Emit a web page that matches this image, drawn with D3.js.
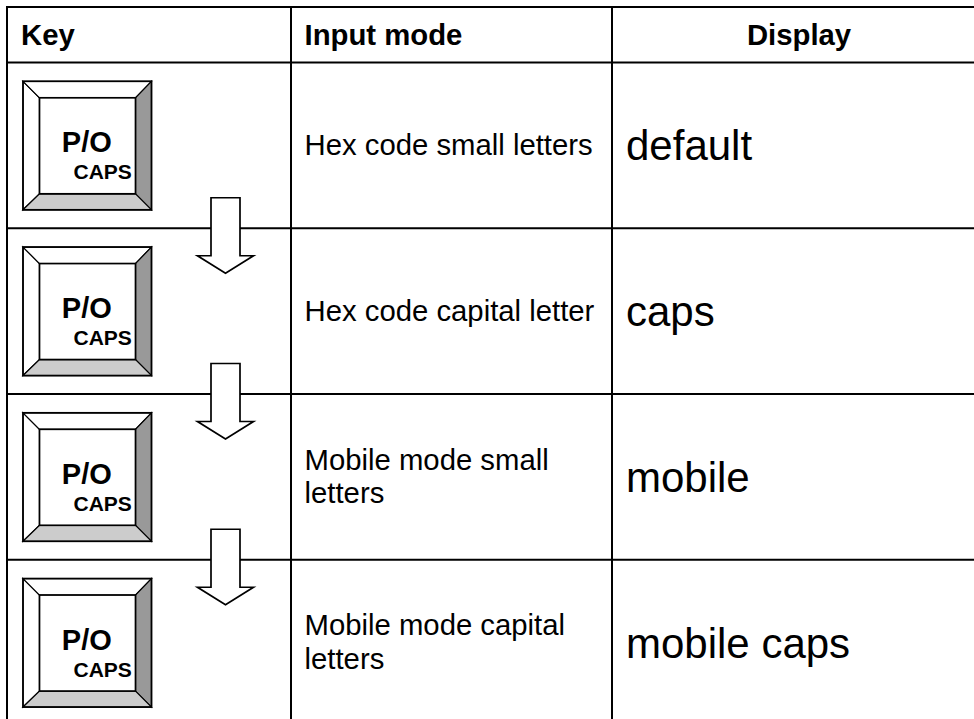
<!DOCTYPE html>
<html>
<head>
<meta charset="utf-8">
<script src="https://cdn.jsdelivr.net/npm/d3@7"></script>
<style>
  html, body { margin: 0; padding: 0; background: #fff; }
  svg { display: block; }
  text { font-family: "Liberation Sans", Arial, sans-serif; fill: #000; }
</style>
</head>
<body>
<div id="chart"></div>
<script>
// Table content
const columns = ["Key", "Input mode", "Display"];
const keyLabels = ["P/O", "CAPS"];
const inputModes = [
  ["Hex code small letters"],
  ["Hex code capital letter"],
  ["Mobile mode small", "letters"],
  ["Mobile mode capital", "letters"]
];
const displays = ["default", "caps", "mobile", "mobile caps"];

const width = 974;
const height = 719;

const svg = d3.select("#chart").append("svg")
  .attr("width", width)
  .attr("height", height);

// Row and column positions
const rowY = d3.scaleLinear().domain([0, 4]).range([62.5, 725.5]);
const colX = d3.scaleOrdinal().domain(columns).range([7, 291, 612]);
const headerTop = 7;
const bodySize = 29.3;

// Grid lines
const grid = svg.append("g").attr("stroke", "#000").attr("stroke-width", 2);

[headerTop, rowY(0), rowY(1), rowY(2), rowY(3)].forEach((y) => {
  grid.append("line")
    .attr("x1", 6).attr("x2", width)
    .attr("y1", y).attr("y2", y);
});

columns.forEach((c) => {
  grid.append("line")
    .attr("x1", colX(c)).attr("x2", colX(c))
    .attr("y1", headerTop - 1).attr("y2", height);
});

// Header
[[21, "start"], [304.5, "start"], [799, "middle"]].forEach((pos, i) => {
  svg.append("text")
    .attr("x", pos[0]).attr("y", 45)
    .attr("text-anchor", pos[1])
    .attr("font-size", bodySize)
    .attr("font-weight", "bold")
    .text(columns[i]);
});

// Key caps, one for each row
function drawKey(g) {
  const o0 = 0, o1 = 128.5, i0 = 16.5, i1 = 112.5;
  const bevel = [
    { fill: "#fff", pts: [[o0, o0], [i0, i0], [i0, i1], [o0, o1]] },
    { fill: "#fff", pts: [[o0, o0], [o1, o0], [i1, i0], [i0, i0]] },
    { fill: "#999", pts: [[o1, o0], [o1, o1], [i1, i1], [i1, i0]] },
    { fill: "#ccc", pts: [[o0, o1], [i0, i1], [i1, i1], [o1, o1]] }
  ];
  g.selectAll("polygon").data(bevel).enter().append("polygon")
    .attr("points", (d) => d.pts.join(" "))
    .attr("fill", (d) => d.fill)
    .attr("stroke", "#000")
    .attr("stroke-width", 1.2);
  g.append("rect")
    .attr("x", o0).attr("y", o0)
    .attr("width", o1 - o0).attr("height", o1 - o0)
    .attr("fill", "none").attr("stroke", "#000").attr("stroke-width", 1.7);
  g.append("rect")
    .attr("x", i0).attr("y", i0)
    .attr("width", i1 - i0).attr("height", i1 - i0)
    .attr("fill", "#fff").attr("stroke", "#000").attr("stroke-width", 1.7);
  g.append("text").attr("x", 38.8).attr("y", 71)
    .attr("font-size", 29).attr("font-weight", "bold").text(keyLabels[0]);
  g.append("text").attr("x", 50.5).attr("y", 98)
    .attr("font-size", 21).attr("font-weight", "bold").text(keyLabels[1]);
}

const rows = svg.selectAll("g.row").data(displays).enter().append("g")
  .attr("class", "row");

rows.each(function (d, i) {
  const row = d3.select(this);
  const top = rowY(i);
  const mid = (top + rowY(i + 1)) / 2;

  const key = row.append("g").attr("transform", `translate(23,${top + 18.8})`);
  drawKey(key);

  // Input mode text, wrapped by hand as in the source
  const lines = inputModes[i];
  lines.forEach((line, j) => {
    row.append("text")
      .attr("x", 304.5)
      .attr("y", mid + 9.5 + (j - (lines.length - 1) / 2) * 33.5)
      .attr("font-size", bodySize)
      .text(line);
  });

  // Display text
  row.append("text")
    .attr("x", 626)
    .attr("y", mid + 15)
    .attr("font-size", 42)
    .text(d);
});

// Down arrows between rows
const arrowShape = [[15, 0], [44, 0], [44, 58], [57.5, 58], [29.5, 75.5], [1.5, 58], [15, 58]];
[1, 2, 3].forEach((i) => {
  svg.append("polygon")
    .attr("transform", `translate(196,${rowY(i) - 30.5})`)
    .attr("points", arrowShape.join(" "))
    .attr("fill", "#fff")
    .attr("stroke", "#000")
    .attr("stroke-width", 1.7);
});
</script>
</body>
</html>
